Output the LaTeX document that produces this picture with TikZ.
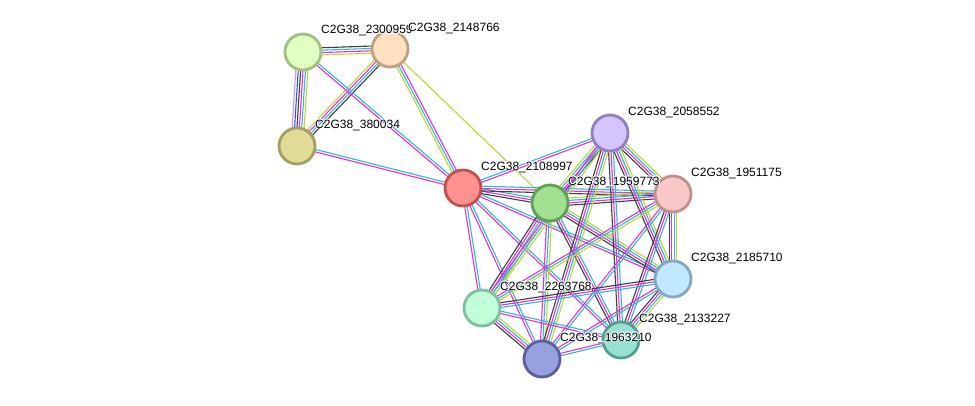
\documentclass[tikz,border=0pt]{standalone}
\usepackage{fontspec}
\setmainfont{Liberation Sans}
\usetikzlibrary{calc,backgrounds}
\definecolor{cmag}{HTML}{E030E0}
\definecolor{ccya}{HTML}{30B8D8}
\definecolor{cyel}{HTML}{C0D434}
\definecolor{cblk}{HTML}{404040}
\definecolor{cblu}{HTML}{4848F0}
\definecolor{clav}{HTML}{A8A8F0}
\tikzset{
  prot/.style={circle, minimum size=36pt, inner sep=0pt, line width=2.8pt},
  plab/.style={anchor=west, inner sep=0pt, font=\fontsize{12}{14}\selectfont},
  eline/.style={line width=1.1pt},
}
\newcommand\sedge[4]{%
  \foreach \cc [count=\ii] in {#4}{%
    \pgfmathsetmacro\off{(\ii-(#3+1)/2)*2.4}%
    \draw[eline,\cc] ($(#1.center)!\off pt!90:(#2.center)$) -- ($(#2.center)!\off pt!-90:(#1.center)$);
  }%
}
\newcommand\plabel[3]{%
  \foreach \dx/\dy in {-0.9/0,0.9/0,0/-0.9,0/0.9,-0.7/-0.7,0.7/0.7,-0.7/0.7,0.7/-0.7}{%
    \node[plab,text=white] at ($(#1.center)+(18+\dx,-21+\dy)$) {#3};
  }%
  \node[plab] (#2) at ($(#1.center)+(18,-21)$) {#3};
}
\begin{document}
\begin{tikzpicture}[x=1pt,y=-1pt]
\useasboundingbox (0,0) rectangle (975,405);
% proteins
\node[prot, fill={rgb,255:red,224;green,255;blue,192}, draw={rgb,255:red,160;green,192;blue,128}] (P2300959) at (303,52) {};
\node[prot, fill={rgb,255:red,255;green,224;blue,192}, draw={rgb,255:red,192;green,160;blue,128}] (P2148766) at (390,49) {};
\node[prot, fill={rgb,255:red,224;green,220;blue,152}, draw={rgb,255:red,160;green,160;blue,96}] (P380034) at (297,146) {};
\node[prot, fill={rgb,255:red,255;green,144;blue,144}, draw={rgb,255:red,192;green,80;blue,80}] (A) at (463,188) {};
\node[prot, fill={rgb,255:red,160;green,224;blue,144}, draw={rgb,255:red,96;green,160;blue,80}] (B) at (550,203) {};
\node[prot, fill={rgb,255:red,212;green,196;blue,255}, draw={rgb,255:red,144;green,128;blue,192}] (C) at (610,133) {};
\node[prot, fill={rgb,255:red,248;green,200;blue,200}, draw={rgb,255:red,192;green,144;blue,144}] (D) at (673,194) {};
\node[prot, fill={rgb,255:red,192;green,232;blue,255}, draw={rgb,255:red,128;green,168;blue,192}] (E) at (673,279) {};
\node[prot, fill={rgb,255:red,192;green,255;blue,216}, draw={rgb,255:red,128;green,192;blue,160}] (F) at (482,308) {};
\node[prot, fill={rgb,255:red,152;green,224;blue,208}, draw={rgb,255:red,80;green,160;blue,144}] (G) at (621,340) {};
\node[prot, fill={rgb,255:red,152;green,160;blue,224}, draw={rgb,255:red,88;green,96;blue,160}] (H) at (542,359) {};
% edges
\begin{pgfonlayer}{background}
\fill[white] (0,0) rectangle (975,405);
\sedge{P2300959}{P2148766}{4}{cyel,cmag,ccya,cblk}
\sedge{P2300959}{P380034}{6}{clav,cblu,cblk,cmag,ccya,cyel}
\sedge{P2148766}{P380034}{4}{cyel,cmag,ccya,cblk}
\sedge{P2300959}{A}{2}{cmag,ccya}
\sedge{P2148766}{A}{3}{cyel,ccya,cmag}
\sedge{P2148766}{B}{1}{cyel}
\sedge{P380034}{A}{2}{cmag,ccya}
\sedge{A}{B}{3}{cblk,cmag,ccya}
\sedge{A}{C}{2}{cmag,ccya}
\sedge{A}{D}{3}{cblk,cmag,ccya}
\sedge{A}{E}{2}{cmag,ccya}
\sedge{A}{F}{2}{cmag,ccya}
\sedge{A}{G}{2}{cmag,ccya}
\sedge{A}{H}{2}{cmag,ccya}
\sedge{B}{C}{4}{cblk,cmag,ccya,cyel}
\sedge{B}{D}{4}{cblk,cmag,ccya,cyel}
\sedge{B}{E}{4}{cblk,cmag,ccya,cyel}
\sedge{B}{F}{4}{cblk,cmag,ccya,cyel}
\sedge{B}{G}{3}{cblk,cmag,ccya}
\sedge{B}{H}{3}{cmag,ccya,cyel}
\sedge{C}{D}{4}{cblk,cmag,ccya,cyel}
\sedge{C}{E}{4}{cblk,cmag,ccya,cyel}
\sedge{C}{F}{3}{cmag,ccya,cyel}
\sedge{C}{G}{3}{cblk,cmag,ccya}
\sedge{C}{H}{4}{cblk,cmag,ccya,cyel}
\sedge{D}{E}{4}{cblk,cmag,ccya,cyel}
\sedge{D}{F}{3}{cmag,ccya,cyel}
\sedge{D}{G}{3}{cblk,cmag,ccya}
\sedge{D}{H}{2}{cmag,ccya}
\sedge{E}{F}{3}{cblk,cmag,ccya}
\sedge{E}{G}{4}{cblk,cmag,ccya,cyel}
\sedge{E}{H}{2}{cmag,ccya}
\sedge{F}{G}{2}{cmag,ccya}
\sedge{F}{H}{4}{cblk,cmag,ccya,cyel}
\sedge{G}{H}{2}{cmag,ccya}
\end{pgfonlayer}
% labels
\plabel{P2300959}{L2300959}{C2G38\_2300959}
\plabel{P2148766}{L2148766}{C2G38\_2148766}
\plabel{P380034}{L380034}{C2G38\_380034}
\plabel{A}{LA}{C2G38\_2108997}
\plabel{B}{LB}{C2G38\_1959773}
\plabel{C}{LC}{C2G38\_2058552}
\plabel{D}{LD}{C2G38\_1951175}
\plabel{E}{LE}{C2G38\_2185710}
\plabel{F}{LF}{C2G38\_2263768}
\plabel{G}{LG}{C2G38\_2133227}
\plabel{H}{LH}{C2G38\_1963210}
\end{tikzpicture}
\end{document}
